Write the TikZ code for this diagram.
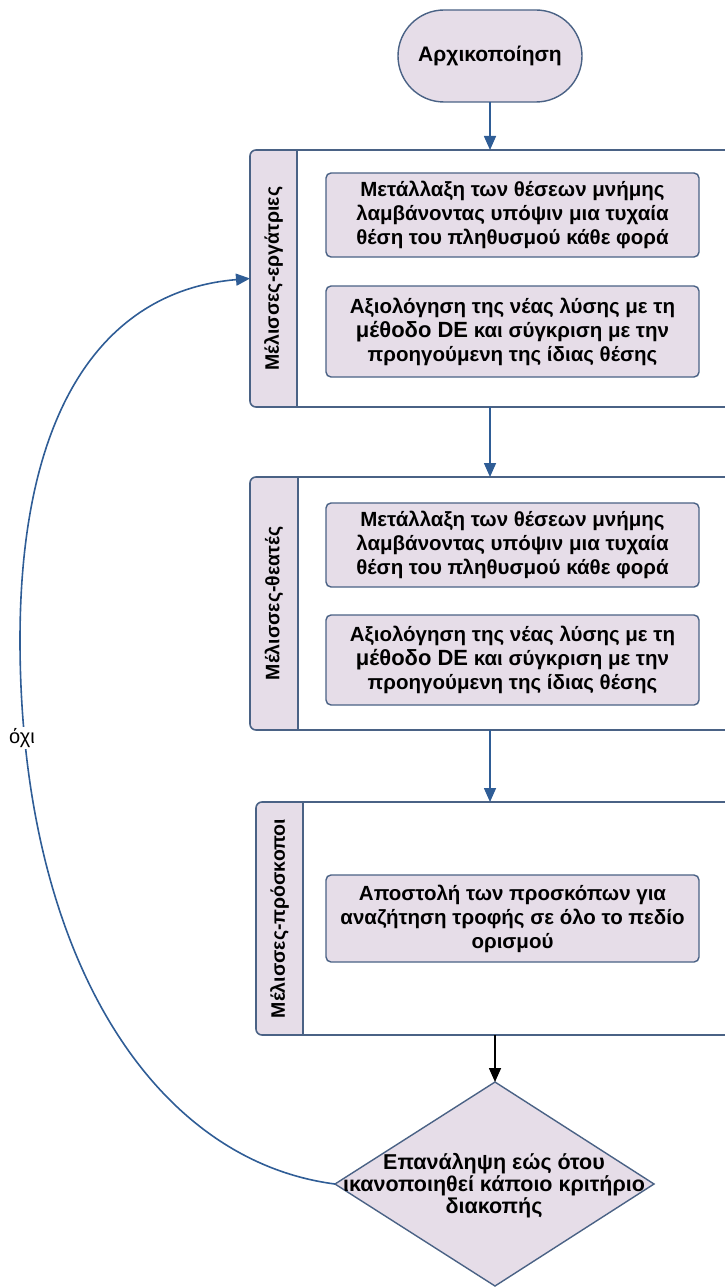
\documentclass[tikz,border=0pt]{standalone}
\usepackage{fontspec}
\usepackage{graphicx}
\setmainfont{Liberation Sans}
\usetikzlibrary{arrows.meta,shapes.misc}
\definecolor{boxfill}{HTML}{E6DDE8}
\definecolor{boxline}{HTML}{4A6285}
\definecolor{arrowblue}{HTML}{2F5D96}
\begin{document}
\begin{tikzpicture}[x=1pt,y=-1pt,
  every node/.style={inner sep=0pt, outer sep=0pt},
  txt/.style={font=\bfseries\fontsize{20.5}{24}\selectfont, align=center},
  terminal/.style={rounded rectangle, draw=boxline, line width=1.4pt, fill=boxfill,
    minimum width=184pt, minimum height=92pt, txt, font=\bfseries\fontsize{21}{24}\selectfont},
  lanebody/.style={rectangle, draw=boxline, line width=1.6pt, fill=white, anchor=north west},
  lanestrip/.style={rectangle, rounded corners=6pt, draw=boxline, line width=1.6pt, fill=boxfill, anchor=north west},
  lanelabel/.style={font=\bfseries\fontsize{19.5}{22}\selectfont, rotate=90},
  inbox/.style={rectangle, rounded corners=5pt, draw=boxline, line width=1.4pt, fill=boxfill,
    minimum width=373pt, txt},
  flow/.style={draw=arrowblue, line width=1.6pt, -{Triangle[length=14pt,width=12pt]}},
  flowblack/.style={draw=black, line width=1.6pt, -{Triangle[length=14pt,width=12pt]}}
]
\useasboundingbox (0,0) rectangle (724,1287);

% start
\node[terminal] (start) at (490,56) {Αρχικοποίηση};

% lane 1
\node[lanestrip, minimum width=60pt, minimum height=257pt] (s1) at (250,150) {};
\node[lanebody, minimum width=450pt, minimum height=257pt] (lane1) at (297,150) {};
\node[lanelabel] (l1) at (273.5,278.5) {Μέλισσες-εργάτριες};
\node[inbox, minimum height=84pt] (b1a) at (512.5,215) {Μετάλλαξη των θέσεων μνήμης\\λαμβάνοντας υπόψιν μια τυχαία\\θέση του πληθυσμού κάθε φορά};
\node[inbox, minimum height=91pt] (b1b) at (512.5,331.5) {Αξιολόγηση της νέας λύσης με τη\\{\fontsize{22}{24}\selectfont μέθοδο DE} και σύγκριση με την\\προηγούμενη της ίδιας θέσης};

% lane 2
\node[lanestrip, minimum width=60pt, minimum height=253pt] (s2) at (250,477) {};
\node[lanebody, minimum width=450pt, minimum height=253pt] (lane2) at (298,477) {};
\node[lanelabel] (l2) at (274,603.5) {Μέλισσες-θεατές};
\node[inbox, minimum height=84pt] (b2a) at (512.5,545) {Μετάλλαξη των θέσεων μνήμης\\λαμβάνοντας υπόψιν μια τυχαία\\θέση του πληθυσμού κάθε φορά};
\node[inbox, minimum height=90pt] (b2b) at (512.5,660) {Αξιολόγηση της νέας λύσης με τη\\{\fontsize{22}{24}\selectfont μέθοδο DE} και σύγκριση με την\\προηγούμενη της ίδιας θέσης};

% lane 3
\node[lanestrip, minimum width=60pt, minimum height=233pt] (s3) at (256,802) {};
\node[lanebody, minimum width=450pt, minimum height=233pt] (lane3) at (303,802) {};
\node[lanelabel] (l3) at (279.5,918.5) {Μέλισσες-πρόσκοποι};
\node[inbox, minimum height=87pt] (b3) at (512.5,918.5) {Αποστολή των προσκόπων για\\αναζήτηση τροφής σε όλο το πεδίο\\ορισμού};

% decision
\coordinate (dtop) at (495,1082);
\coordinate (dleft) at (335,1184);
\coordinate (dright) at (654,1184);
\coordinate (dbot) at (495,1286);
\draw[boxline, line width=1.4pt, fill=boxfill] (dtop) -- (dright) -- (dbot) -- (dleft) -- cycle;
\node[align=center, font=\bfseries\fontsize{21.5}{22}\selectfont] (dec) at (494,1186) {Επανάληψη εώς ότου\\ικανοποιηθεί κάποιο κριτήριο\\διακοπής};

% connectors
\draw[flow] (start.south) -- (start.south |- lane1.north);
\draw[flow] (490,407) coordinate (c1) -- (490,477) coordinate (c2);
\draw[flow] (490,730) coordinate (c3) -- (490,802) coordinate (c4);
\draw[flowblack] (dtop |- lane3.south) -- (dtop);
\coordinate (mid) at (20,640);
\draw[flow] (dleft) .. controls (150,1160) and (20,950) .. (mid)
  .. controls (20,400) and (110,290) .. (s1.west);
\node[fill=white, inner sep=1.5pt, font=\fontsize{20}{22}\selectfont] (no) at (22,738) {όχι};
\end{tikzpicture}
\end{document}
